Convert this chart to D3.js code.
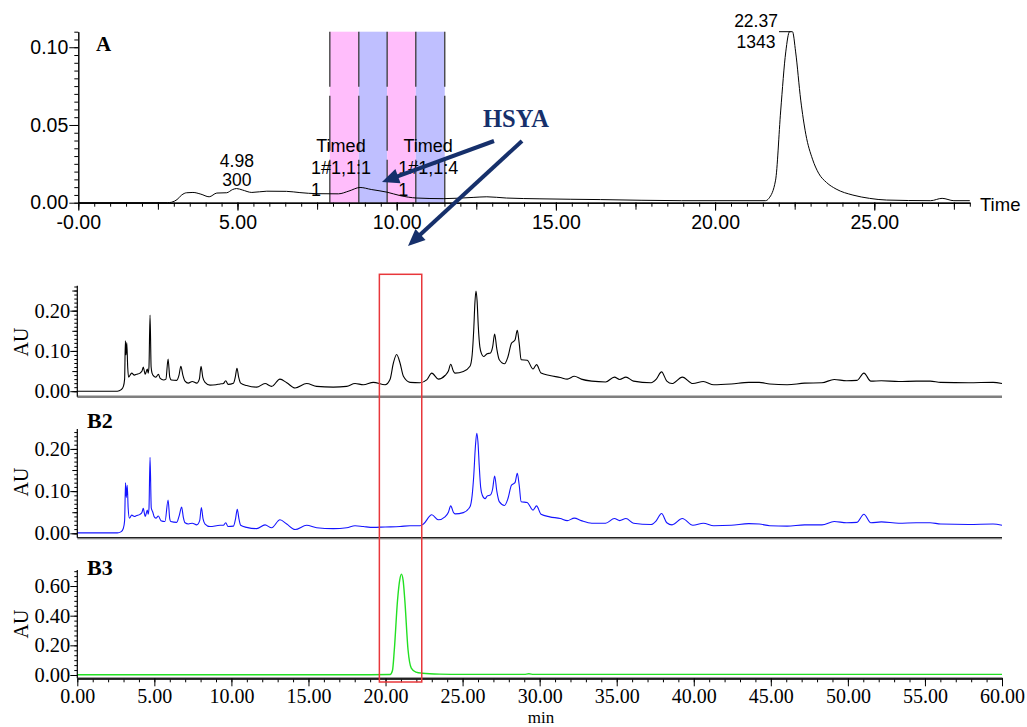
<!DOCTYPE html>
<html><head><meta charset="utf-8">
<script src="https://cdn.jsdelivr.net/npm/d3@7"></script>
<style>body{margin:0;background:#fff} svg{display:block}</style>
</head><body><svg id="c" width="1027" height="727"></svg>
<script>
// ---------------- DATA ----------------
// Panel A: preparative chromatogram (time in min, absorbance AU)
const aTime = [0,2.8,2.93,3.1,3.25,3.4,3.6,3.85,4.11,4.35,4.66,4.85,4.97,5.15,5.45,5.92,6.54,6.96,7.49,8.17,8.5,8.85,9.2,9.69,10.1,10.63,11.46,12.4,12.83,13.45,14.5,16.4,18.95,21.58,21.69,21.9,22.06,22.22,22.34,22.43,22.53,22.69,22.85,23.06,23.25,23.5,23.8,24.33,24.85,25.39,26.77,27.13,27.5,28];
const aAU   = [0,0,0.0003,0.002,0.005,0.0064,0.0066,0.0055,0.0038,0.0062,0.0064,0.0085,0.0091,0.0082,0.0066,0.0074,0.0073,0.0065,0.0058,0.0057,0.0075,0.0098,0.0085,0.0068,0.0046,0.003,0.0026,0.0034,0.0038,0.003,0.0025,0.002,0.0013,0.0013,0.0028,0.0145,0.059,0.097,0.110,0.110,0.097,0.066,0.044,0.028,0.019,0.013,0.0088,0.0049,0.0028,0.0017,0.0013,0.0028,0.0013,0.0013];
const aXTickValues = [0,5,10,15,20,25];
const aXTickLabels = ["-0.00","5.00","10.00","15.00","20.00","25.00"];
const aYTickValues = [0,0.05,0.10];
const aYTickLabels = ["0.00","0.05","0.10"];
const timedBounds = [7.90,8.81,9.70,10.60,11.51];
const timedLabelTimes = [8.25,10.99];
const timedLabelLines = [["Timed","1#1,1:1","1"],["Timed","1#1,1:4","1"]];
const peakTimes = [4.98,22.37];
const peakTimeLabels = ["4.98","22.37"];
const peakAreaLabels = ["300","1343"];

// Panel B1: crude extract (black)
const b1Time = [0,2.6,2.85,2.99,3.07,3.12,3.16,3.21,3.27,3.33,3.53,3.7,3.85,4.07,4.2,4.28,4.36,4.41,4.54,4.6,4.65,4.72,4.79,4.85,4.98,5.1,5.26,5.38,5.6,5.75,5.89,6.0,6.1,6.45,6.6,6.72,6.85,6.99,7.2,7.46,7.75,7.92,8.03,8.14,8.29,8.61,9.0,9.26,9.48,9.63,9.78,10.13,10.25,10.36,10.47,10.6,10.99,11.64,12.18,12.61,13.15,13.59,14.13,14.88,15.53,16.61,17.48,18.02,18.56,19.21,19.97,20.29,20.51,20.72,20.94,21.16,21.59,22.24,22.67,23.0,23.43,23.86,24.08,24.23,24.4,24.51,25.05,25.48,25.62,25.72,25.8,25.87,25.94,26.02,26.12,26.24,26.36,26.59,26.81,26.95,27.08,27.22,27.38,27.72,27.94,28.17,28.4,28.55,28.67,28.8,29.19,29.57,29.8,30.09,30.66,31.34,31.79,32.25,32.7,33.38,34.28,34.85,35.19,35.6,36.09,37.23,37.57,37.91,38.25,38.59,39.26,39.94,40.62,41.3,42.43,43.57,44.25,44.93,46.06,47.19,48.32,49.11,49.91,50.59,51.04,51.49,52.17,53.3,54.44,55.34,56.02,57.83,59.42,60];
const b1AU = [0,0,0.004,0.012,0.03,0.125,0.09,0.121,0.06,0.035,0.045,0.04,0.042,0.045,0.05,0.06,0.048,0.042,0.055,0.045,0.06,0.189,0.06,0.045,0.037,0.035,0.042,0.032,0.028,0.03,0.08,0.035,0.028,0.027,0.04,0.062,0.04,0.025,0.02,0.024,0.02,0.03,0.062,0.035,0.022,0.015,0.016,0.018,0.019,0.026,0.017,0.02,0.035,0.057,0.035,0.02,0.014,0.01,0.019,0.012,0.03,0.021,0.008,0.019,0.012,0.01,0.012,0.019,0.016,0.022,0.016,0.029,0.07,0.091,0.07,0.037,0.022,0.021,0.028,0.045,0.03,0.039,0.05,0.067,0.05,0.045,0.049,0.062,0.09,0.15,0.22,0.249,0.225,0.16,0.11,0.092,0.086,0.093,0.095,0.11,0.142,0.105,0.078,0.068,0.085,0.119,0.127,0.151,0.12,0.078,0.077,0.055,0.066,0.045,0.039,0.034,0.03,0.037,0.03,0.025,0.023,0.035,0.029,0.035,0.025,0.021,0.03,0.048,0.025,0.019,0.035,0.019,0.024,0.016,0.018,0.022,0.022,0.018,0.016,0.02,0.021,0.029,0.026,0.027,0.045,0.025,0.026,0.024,0.025,0.025,0.022,0.021,0.022,0.019];

// Panel B2: extract after HSYA removal (blue)
const b2Time = [0,2.6,2.85,2.99,3.07,3.13,3.18,3.24,3.3,3.38,3.53,3.7,3.85,4.07,4.2,4.28,4.36,4.41,4.54,4.6,4.65,4.72,4.8,4.89,4.98,5.1,5.26,5.43,5.69,5.89,6.0,6.06,6.45,6.6,6.77,6.88,6.99,7.21,7.46,7.75,7.94,8.05,8.16,8.29,8.61,9.26,9.48,9.63,9.78,10.13,10.27,10.38,10.49,10.6,10.99,11.64,12.18,12.61,13.15,13.59,14.13,14.88,15.53,16.61,17.48,18.02,18.56,19.21,19.97,20.94,21.59,22.24,22.46,23.0,23.43,23.86,24.08,24.23,24.4,24.51,25.05,25.48,25.62,25.72,25.83,25.92,26.0,26.08,26.17,26.28,26.46,26.59,26.81,26.95,27.08,27.22,27.38,27.72,27.94,28.17,28.4,28.55,28.67,28.8,29.19,29.57,29.8,30.09,30.66,31.34,31.79,32.25,32.7,33.38,34.28,34.85,35.19,35.6,36.09,37.23,37.57,37.91,38.25,38.59,39.26,39.94,40.62,41.3,42.43,43.57,44.25,44.93,46.06,47.19,48.32,49.11,49.91,50.59,51.04,51.49,52.17,53.3,54.44,55.34,56.02,57.83,59.42,60];
const b2AU = [0.001,0.001,0.004,0.012,0.03,0.12,0.085,0.114,0.06,0.036,0.043,0.04,0.042,0.045,0.05,0.059,0.046,0.04,0.055,0.045,0.058,0.18,0.06,0.051,0.04,0.036,0.041,0.03,0.028,0.079,0.034,0.028,0.026,0.04,0.062,0.038,0.025,0.022,0.024,0.02,0.03,0.061,0.034,0.022,0.016,0.019,0.019,0.025,0.016,0.017,0.035,0.057,0.034,0.019,0.014,0.011,0.02,0.013,0.032,0.022,0.009,0.019,0.013,0.011,0.013,0.018,0.016,0.014,0.015,0.016,0.018,0.018,0.022,0.044,0.032,0.039,0.05,0.065,0.05,0.046,0.049,0.063,0.09,0.134,0.205,0.237,0.215,0.16,0.11,0.09,0.082,0.088,0.091,0.105,0.136,0.1,0.075,0.066,0.082,0.114,0.12,0.142,0.115,0.075,0.073,0.055,0.065,0.045,0.039,0.035,0.03,0.036,0.03,0.024,0.024,0.035,0.03,0.035,0.024,0.021,0.03,0.047,0.025,0.02,0.035,0.019,0.024,0.018,0.019,0.023,0.022,0.018,0.017,0.02,0.02,0.028,0.025,0.026,0.045,0.025,0.027,0.024,0.025,0.025,0.022,0.021,0.022,0.019];

// Panel B3: purified HSYA (green)
const b3Time = [0,19,20.3,20.45,20.57,20.78,20.92,21.03,21.14,21.25,21.46,21.67,21.97,22.4,23.5,25,29.0,29.3,29.6,60];
const b3AU   = [0.002,0.002,0.003,0.03,0.17,0.506,0.64,0.68,0.64,0.506,0.17,0.047,0.02,0.012,0.006,0.004,0.004,0.008,0.004,0.004];

const bXTickValues = [0,5,10,15,20,25,30,35,40,45,50,55,60];
const bXTickLabels = ["0.00","5.00","10.00","15.00","20.00","25.00","30.00","35.00","40.00","45.00","50.00","55.00","60.00"];
const b12YTickValues = [0,0.10,0.20];
const b12YTickLabels = ["0.00","0.10","0.20"];
const b3YTickValues = [0,0.20,0.40,0.60];
const b3YTickLabels = ["0.00","0.20","0.40","0.60"];
const hsyaWindow = [19.6,22.35];

// ---------------- DRAW ----------------
const svg = d3.select("#c");
svg.append("rect").attr("width",1027).attr("height",727).attr("fill","#fff");
const SANS = "'Liberation Sans', Arial, sans-serif";
const SERIF = "'Liberation Serif', 'Times New Roman', serif";
const NAVY = "#16306b";

// ===== Panel A =====
const xA = d3.scaleLinear([0,28],[78.3,969.8]);
const yA = d3.scaleLinear([0,0.11],[202.7,31.7]);
const bandFill = ["#ffbdfb","#bfbfff"];
for (let i=0;i<timedBounds.length-1;i++){
  svg.append("rect").attr("x",xA(timedBounds[i])).attr("y",yA.range()[1])
    .attr("width",xA(timedBounds[i+1])-xA(timedBounds[i]))
    .attr("height",yA.range()[0]-yA.range()[1])
    .attr("fill",bandFill[i%2]);
}
timedBounds.forEach(t=>{
  svg.append("line").attr("x1",xA(t)).attr("x2",xA(t))
    .attr("y1",yA.range()[1]).attr("y2",yA.range()[0])
    .attr("stroke","#3a3a3a").attr("stroke-width",1.3).attr("stroke-dasharray","55,9");
});

const lineA = d3.line().x(d=>xA(d[0])).y(d=>yA(d[1])).curve(d3.curveMonotoneX);
svg.append("path").datum(d3.zip(aTime,aAU)).attr("d",lineA)
  .attr("fill","none").attr("stroke","#000").attr("stroke-width",1);

// A axes
const gAy = svg.append("g").attr("transform",`translate(${xA.range()[0]},0)`);
gAy.call(d3.axisLeft(yA).tickValues(d3.range(0,0.1101,0.005)).tickSize(4).tickSizeOuter(0).tickFormat(""));
gAy.call(g=>g.append("g").call(d3.axisLeft(yA).tickValues(aYTickValues).tickSize(9).tickSizeOuter(0).tickPadding(1).tickFormat((d,i)=>aYTickLabels[i])));
const gAx = svg.append("g").attr("transform",`translate(0,${yA.range()[0]})`);
gAx.call(d3.axisBottom(xA).tickValues(d3.range(0,28.01,0.5)).tickSize(4).tickSizeOuter(0).tickFormat(""));
gAx.append("g").call(d3.axisBottom(xA).tickValues(d3.range(0,28.01,2.5)).tickSize(7).tickSizeOuter(0).tickFormat(""));
gAx.append("g").call(d3.axisBottom(xA).tickValues(aXTickValues).tickSize(8).tickSizeOuter(0).tickPadding(4).tickFormat((d,i)=>aXTickLabels[i]));
[gAy,gAx].forEach(g=>{
  g.selectAll("text").attr("font-family",SANS).attr("font-size",19.5).attr("fill","#000");
  g.selectAll("line").attr("stroke","#000");
  g.selectAll("path").attr("stroke","#000");
});
svg.append("text").attr("x",980).attr("y",211).attr("font-family",SANS).attr("font-size",18.5).text("Time");

// Peak annotations
peakTimes.forEach((t,i)=>{
  const cx = i===0 ? xA(t) : xA(t)-34.5;
  svg.append("text").attr("x",cx).attr("y",i===0?166.7:27.3).attr("text-anchor","middle")
    .attr("font-family",SANS).attr("font-size",17.5).text(peakTimeLabels[i]);
  svg.append("text").attr("x",cx).attr("y",i===0?186:48.3).attr("text-anchor","middle")
    .attr("font-family",SANS).attr("font-size",17.5).text(peakAreaLabels[i]);
});
const aMax = d3.max(aAU);
svg.append("line").attr("x1",779).attr("x2",xA(22.37)).attr("y1",yA(aMax)).attr("y2",yA(aMax))
  .attr("stroke","#000").attr("stroke-width",1);

// Timed labels
timedLabelTimes.forEach((t,i)=>{
  const cx = xA(t);
  const l = timedLabelLines[i];
  svg.append("text").attr("x",cx).attr("y",151.7).attr("text-anchor","middle")
    .attr("font-family",SANS).attr("font-size",18).text(l[0]);
  const t2 = svg.append("text").attr("x",cx).attr("y",174).attr("text-anchor","middle")
    .attr("font-family",SANS).attr("font-size",18).text(l[1]);
  const w = t2.node().getComputedTextLength();
  svg.append("text").attr("x",cx-w/2).attr("y",196)
    .attr("font-family",SANS).attr("font-size",18).text(l[2]);
});

svg.append("text").attr("x",96).attr("y",51).attr("font-family",SERIF).attr("font-weight","bold")
  .attr("font-size",21).text("A");

// HSYA annotation
svg.append("text").attr("x",483).attr("y",127).attr("font-family",SERIF).attr("font-weight","bold")
  .attr("font-size",24.5).attr("fill",NAVY).text("HSYA");
function arrow(x1,y1,x2,y2){
  const dx=x2-x1, dy=y2-y1, L=Math.hypot(dx,dy), ux=dx/L, uy=dy/L;
  const hl=17, hw=7.5;
  const bx=x2-ux*hl, by=y2-uy*hl;
  svg.append("line").attr("x1",x1).attr("y1",y1).attr("x2",bx+ux*2).attr("y2",by+uy*2)
    .attr("stroke",NAVY).attr("stroke-width",4);
  svg.append("path").attr("d",`M${x2},${y2}L${bx-uy*hw},${by+ux*hw}L${bx+uy*hw},${by-ux*hw}Z`)
    .attr("fill",NAVY);
}
arrow(494,141,382,182);
arrow(522,141,408,246);

// ===== Panels B =====
const xB = d3.scaleLinear([0,60],[77.3,1002]);
const panels = [
  {time:b1Time, au:b1AU, y:d3.scaleLinear([0,0.262],[391.2,285.7]), base:396.7, color:"#000",
   ticks:b12YTickValues, labels:b12YTickLabels, minor:0.01, mid:0.05, au_y:342, name:null},
  {time:b2Time, au:b2AU, y:d3.scaleLinear([0,0.247],[533.3,429.1]), base:537.7, color:"#1414ff",
   ticks:b12YTickValues, labels:b12YTickLabels, minor:0.01, mid:0.05, au_y:482, name:"B2", ny:428.3},
  {time:b3Time, au:b3AU, y:d3.scaleLinear([0,0.708],[675,570]), base:678.3, color:"#22e022",
   ticks:b3YTickValues, labels:b3YTickLabels, minor:0.2/6, mid:null, au_y:624, name:"B3", ny:575}
];
panels.forEach((p,pi)=>{
  const top = p.y.range()[1];
  if (pi===0){
    svg.append("line").attr("x1",77.3).attr("x2",1002).attr("y1",p.base).attr("y2",p.base)
      .attr("stroke","#7f7f7f").attr("stroke-width",2.5);
  } else if (pi===1){
    svg.append("line").attr("x1",77.3).attr("x2",1002).attr("y1",p.base+1.6).attr("y2",p.base+1.6)
      .attr("stroke","#d4d4d4").attr("stroke-width",1.5);
    svg.append("line").attr("x1",77.3).attr("x2",1002).attr("y1",p.base).attr("y2",p.base)
      .attr("stroke","#222").attr("stroke-width",1.5);
  }
  const line = d3.line().x(d=>xB(d[0])).y(d=>p.y(d[1])).curve(d3.curveMonotoneX);
  svg.append("path").datum(d3.zip(p.time,p.au)).attr("d",line)
    .attr("fill","none").attr("stroke",p.color).attr("stroke-width",pi===2?1.4:1.1);

  const g = svg.append("g").attr("transform","translate(77.3,0)");
  const top2 = p.y.domain()[1];
  g.append("g").call(d3.axisLeft(p.y).tickValues(d3.range(0,top2+1e-9,p.minor)).tickSize(3).tickSizeOuter(0).tickFormat(""))
    .call(s=>s.select(".domain").remove());
  if (p.mid) g.append("g").call(d3.axisLeft(p.y).tickValues(d3.range(0,top2+1e-9,p.mid)).tickSize(5).tickSizeOuter(0).tickFormat(""))
    .call(s=>s.select(".domain").remove());
  g.append("g").call(d3.axisLeft(p.y).tickValues(p.ticks).tickSize(7).tickSizeOuter(0).tickPadding(0).tickFormat((d,i)=>p.labels[i]))
    .call(s=>s.select(".domain").remove());
  g.append("line").attr("x1",0).attr("x2",0).attr("y1",top).attr("y2",p.base).attr("stroke","#000").attr("stroke-width",1.2);
  g.selectAll("text").attr("font-family",SERIF).attr("font-size",20.5).attr("fill","#000");
  g.selectAll("line").attr("stroke","#000");

  svg.append("text").attr("transform",`translate(28.3,${p.au_y}) rotate(-90)`).attr("text-anchor","middle")
    .attr("font-family",SERIF).attr("font-size",20).text("AU");
  if (p.name){
    svg.append("text").attr("x",87).attr("y",p.ny).attr("font-family",SERIF).attr("font-weight","bold")
      .attr("font-size",22).text(p.name);
  }
});

// B3 bottom axis
const gBx = svg.append("g").attr("transform","translate(0,678.3)");
gBx.append("g").call(d3.axisBottom(xB).tickValues(d3.range(0,60.01,1)).tickSize(4).tickSizeOuter(0).tickFormat(""));
gBx.append("g").call(d3.axisBottom(xB).tickValues(bXTickValues).tickSize(8).tickSizeOuter(0).tickPadding(2.5).tickFormat((d,i)=>bXTickLabels[i]));
gBx.selectAll("text").attr("font-family",SERIF).attr("font-size",20).attr("fill","#000");
gBx.selectAll("line").attr("stroke","#000");
gBx.selectAll("path").attr("stroke","#222").attr("stroke-width",2);
svg.append("text").attr("x",541).attr("y",723).attr("text-anchor","middle")
  .attr("font-family",SERIF).attr("font-size",17).text("min");

// Red box (HSYA window)
svg.append("rect").attr("x",xB(hsyaWindow[0])).attr("y",274.3)
  .attr("width",xB(hsyaWindow[1])-xB(hsyaWindow[0])).attr("height",682-274.3)
  .attr("fill","none").attr("stroke","#e8373b").attr("stroke-width",1.5);
</script>
</body></html>
